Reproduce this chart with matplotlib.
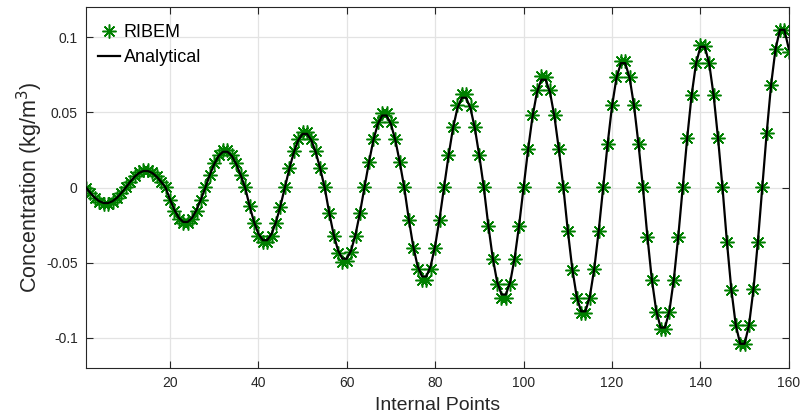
import matplotlib as mpl
import matplotlib.pyplot as plt

mpl.use('Agg')

# internal point index 1..160
pontos = list(range(1, 161))

ribem = [
    0.0000, -0.0038, -0.0071, -0.0095, -0.0109, -0.0108, -0.0096, -0.0071, -0.0038,
    0.0001, 0.0040, 0.0076, 0.0102, 0.0116, 0.0115, 0.0102, 0.0075, 0.0040,
    0.0002, -0.0082, -0.0155, -0.0209, -0.0238, -0.0237, -0.0208, -0.0155, -0.0083,
    0.0001, 0.0086, 0.0162, 0.0218, 0.0248, 0.0247, 0.0217, 0.0161, 0.0086,
    0.0001, -0.0126, -0.0237, -0.0320, -0.0364, -0.0363, -0.0319, -0.0237, -0.0127,
    0.0002, 0.0129, 0.0242, 0.0326, 0.0371, 0.0370, 0.0325, 0.0241, 0.0128,
    0.0001, -0.0171, -0.0321, -0.0432, -0.0492, -0.0491, -0.0431, -0.0320, -0.0172,
    0.0002, 0.0173, 0.0325, 0.0438, 0.0498, 0.0497, 0.0437, 0.0324, 0.0172,
    0.0001, -0.0213, -0.0401, -0.0540, -0.0615, -0.0614, -0.0539, -0.0400, -0.0214,
    0.0002, 0.0216, 0.0405, 0.0546, 0.0621, 0.0620, 0.0545, 0.0404, 0.0215,
    0.0001, -0.0254, -0.0478, -0.0644, -0.0733, -0.0732, -0.0643, -0.0477, -0.0255,
    0.0002, 0.0256, 0.0482, 0.0649, 0.0739, 0.0738, 0.0648, 0.0481, 0.0255,
    0.0001, -0.0290, -0.0545, -0.0734, -0.0835, -0.0834, -0.0733, -0.0544, -0.0291,
    0.0002, 0.0292, 0.0548, 0.0738, 0.0840, 0.0839, 0.0737, 0.0547, 0.0291,
    0.0001, -0.0326, -0.0614, -0.0827, -0.0940, -0.0939, -0.0826, -0.0613, -0.0327,
    0.0002, 0.0328, 0.0617, 0.0831, 0.0945, 0.0944, 0.0830, 0.0616, 0.0327,
    0.0001, -0.0361, -0.0678, -0.0914, -0.1039, -0.1038, -0.0913, -0.0677, -0.0362,
    0.0002, 0.0364, 0.0685, 0.0922, 0.1049, 0.1048, 0.0900,
]

analitica = [
    0.0000, -0.0036, -0.0068, -0.0091, -0.0103, -0.0103, -0.0091, -0.0068, -0.0036,
    0.0000, 0.0038, 0.0072, 0.0097, 0.0110, 0.0110, 0.0097, 0.0072, 0.0038,
    0.0000, -0.0079, -0.0149, -0.0201, -0.0229, -0.0229, -0.0201, -0.0149, -0.0079,
    0.0000, 0.0083, 0.0156, 0.0210, 0.0238, 0.0238, 0.0210, 0.0156, 0.0083,
    0.0000, -0.0121, -0.0228, -0.0307, -0.0350, -0.0350, -0.0307, -0.0228, -0.0121,
    0.0000, 0.0124, 0.0233, 0.0314, 0.0357, 0.0357, 0.0314, 0.0233, 0.0124,
    0.0000, -0.0164, -0.0309, -0.0416, -0.0473, -0.0473, -0.0416, -0.0309, -0.0164,
    0.0000, 0.0166, 0.0313, 0.0421, 0.0479, 0.0479, 0.0421, 0.0313, 0.0166,
    0.0000, -0.0205, -0.0386, -0.0520, -0.0591, -0.0591, -0.0520, -0.0386, -0.0205,
    0.0000, 0.0207, 0.0390, 0.0525, 0.0597, 0.0597, 0.0525, 0.0390, 0.0207,
    0.0000, -0.0247, -0.0464, -0.0625, -0.0711, -0.0711, -0.0625, -0.0464, -0.0247,
    0.0000, 0.0249, 0.0468, 0.0630, 0.0717, 0.0717, 0.0630, 0.0468, 0.0249,
    0.0000, -0.0286, -0.0537, -0.0723, -0.0823, -0.0823, -0.0723, -0.0537, -0.0286,
    0.0000, 0.0287, 0.0540, 0.0727, 0.0827, 0.0827, 0.0727, 0.0540, 0.0287,
    0.0000, -0.0323, -0.0608, -0.0818, -0.0931, -0.0931, -0.0818, -0.0608, -0.0323,
    0.0000, 0.0325, 0.0611, 0.0823, 0.0936, 0.0936, 0.0823, 0.0611, 0.0325,
    0.0000, -0.0361, -0.0678, -0.0914, -0.1039, -0.1039, -0.0914, -0.0678, -0.0361,
    0.0000, 0.0364, 0.0685, 0.0922, 0.1049, 0.1049, 0.0922,
]

xticks = [20, 40, 60, 80, 100, 120, 140, 160]
yticks = [-0.1, -0.05, 0, 0.05, 0.1]
ytick_labels = ['-0.1', '-0.05', '0', '0.05', '0.1']

plt.rcParams['font.family'] = ['Liberation Sans', 'DejaVu Sans']
cinza = '#262626'

fig = plt.figure(figsize=(8, 4.17), dpi=100)
ax = fig.add_axes([0.1075, 0.1175, 0.8785, 0.8655])

ax.plot(pontos, ribem, linestyle='none', marker=(8, 2, 0), markersize=10,
        markeredgewidth=1.1, color='#008000', label='RIBEM', zorder=2)
ax.plot(pontos, analitica, color='black', linewidth=1.6, label='Analytical',
        solid_joinstyle='round', zorder=3)

ax.set_xlim(1, 160)
ax.set_ylim(-0.12, 0.12)
ax.set_xticks(xticks)
ax.set_yticks(yticks)
ax.set_yticklabels(ytick_labels)
ax.grid(True, color='#e3e3e3', linewidth=0.9)
ax.set_axisbelow(True)
ax.tick_params(direction='in', length=5, width=0.8, colors=cinza, labelsize=10,
               top=True, right=True, pad=6)
for lado in ax.spines.values():
    lado.set_color(cinza)
    lado.set_linewidth(0.8)

ax.set_xlabel('Internal Points', fontsize=14, color=cinza, labelpad=5)
ax.set_ylabel('Concentration (kg/m$^3$)', fontsize=15.5, color=cinza, labelpad=1)

ax.legend(loc='upper left', bbox_to_anchor=(-0.007, 1.0), frameon=False,
          fontsize=13, handlelength=1.2, handletextpad=0.2,
          borderaxespad=0.55, labelspacing=0.45)

plt.savefig('out.png', dpi=100)
